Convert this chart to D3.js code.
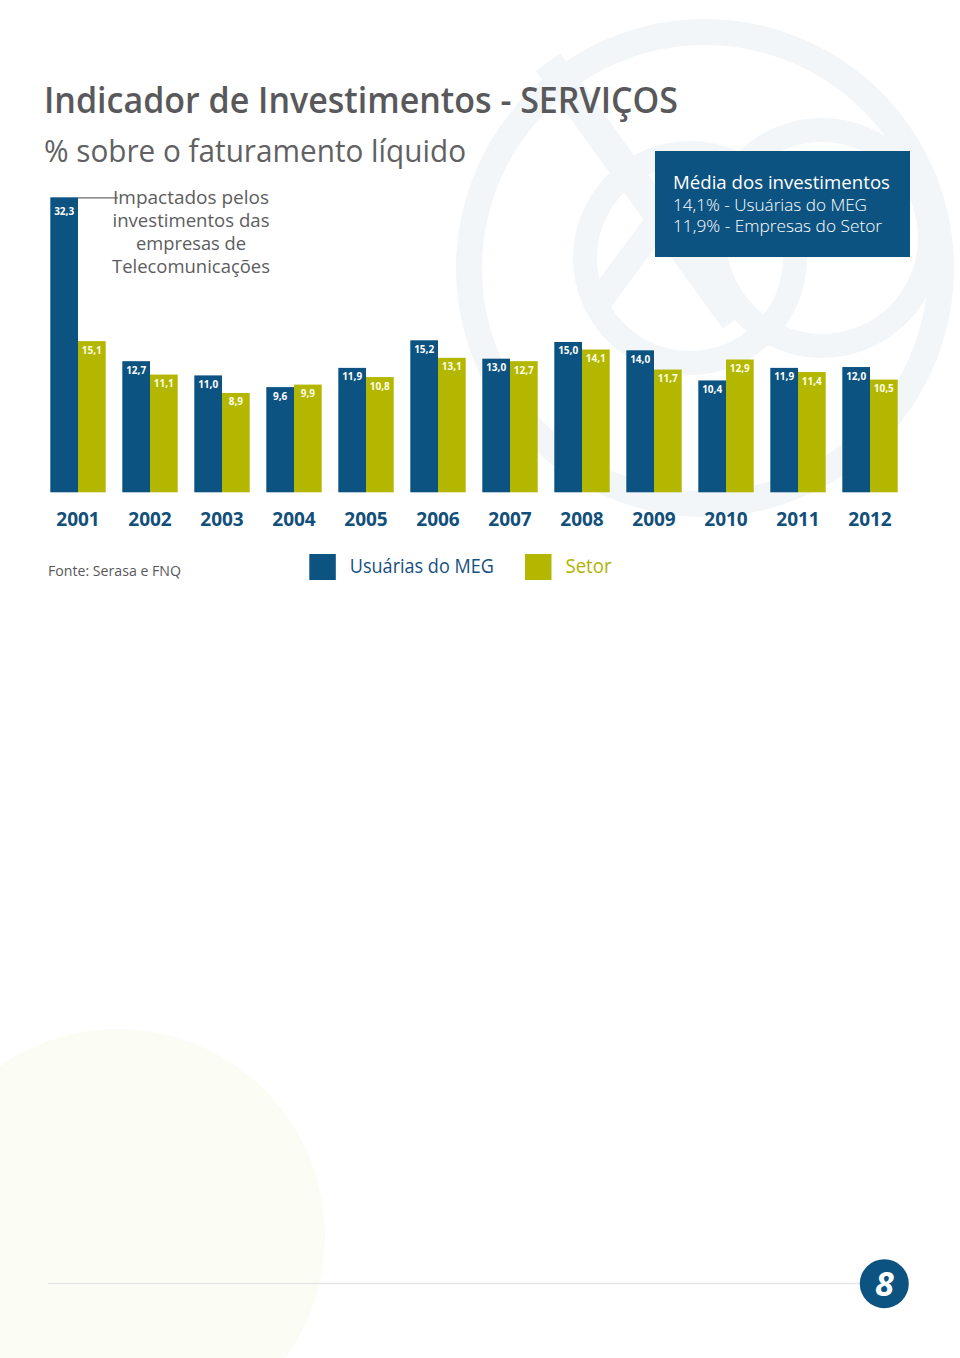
<!DOCTYPE html>
<html>
<head>
<meta charset="utf-8">
<script src="https://cdn.jsdelivr.net/npm/d3@7"></script>
<style>
  html, body { margin: 0; padding: 0; background: #ffffff; }
  svg { display: block; }
  text { font-family: "Open Sans", "DejaVu Sans", sans-serif; }
</style>
</head>
<body>
<svg id="chart" width="960" height="1358"></svg>
<script>
// ---- data ----
const years = ["2001","2002","2003","2004","2005","2006","2007","2008","2009","2010","2011","2012"];
const megValues = [32.3, 12.7, 11.0, 9.6, 11.9, 15.2, 13.0, 15.0, 14.0, 10.4, 11.9, 12.0];
const setorValues = [15.1, 11.1, 8.9, 9.9, 10.8, 13.1, 12.7, 14.1, 11.7, 12.9, 11.4, 10.5];
const seriesKeys = ["meg", "setor"];
const seriesNames = ["Usuárias do MEG", "Setor"];
const titleText = "Indicador de Investimentos - SERVIÇOS";
const subtitleText = "% sobre o faturamento líquido";
const noteLines = ["Impactados pelos", "investimentos das", "empresas de", "Telecomunicações"];
const boxTitle = "Média dos investimentos";
const boxLines = ["14,1% - Usuárias do MEG", "11,9% - Empresas do Setor"];
const sourceText = "Fonte: Serasa e FNQ";
const pageNumber = "8";

// ---- styles ----
const BLUE = "#0c5381";
const OLIVE = "#b4b700";
const colors = { meg: BLUE, setor: OLIVE };
const GRAY = "#59595b";
const WM = "#f2f6f9";

const svg = d3.select("#chart");

// ---- background decorations ----
const bg = svg.append("g");
bg.append("circle").attr("cx", 118).attr("cy", 1236).attr("r", 207).attr("fill", "#fbfcf4");
bg.append("circle").attr("cx", 705).attr("cy", 268).attr("r", 236)
  .attr("fill", "none").attr("stroke", WM).attr("stroke-width", 26);
bg.append("circle").attr("cx", 690).attr("cy", 258).attr("r", 105)
  .attr("fill", "none").attr("stroke", WM).attr("stroke-width", 24);
bg.append("circle").attr("cx", 822).attr("cy", 238).attr("r", 108)
  .attr("fill", "none").attr("stroke", WM).attr("stroke-width", 24);
bg.append("line").attr("x1", 548).attr("y1", 62).attr("x2", 735).attr("y2", 320)
  .attr("stroke", WM).attr("stroke-width", 30);
bg.append("line").attr("x1", 700).attr("y1", 165).attr("x2", 600).attr("y2", 300)
  .attr("stroke", WM).attr("stroke-width", 26);

// ---- titles ----
svg.append("text").attr("x", 44).attr("y", 113)
  .attr("font-size", 36).attr("font-weight", 600).attr("fill", GRAY)
  .attr("textLength", 634).attr("lengthAdjust", "spacingAndGlyphs")
  .text(titleText);
svg.append("text").attr("x", 44).attr("y", 162)
  .attr("font-size", 31).attr("font-weight", 400).attr("fill", "#616163")
  .attr("textLength", 422).attr("lengthAdjust", "spacingAndGlyphs")
  .text(subtitleText);

// ---- scales ----
const x0 = d3.scaleBand().domain(years).range([50.3, 897.7]).paddingInner(0.2306).paddingOuter(0);
const x1 = d3.scaleBand().domain(seriesKeys).range([0, x0.bandwidth()]).padding(0);
const y = d3.scaleLinear().domain([-2.98, 32.3]).range([492.3, 197.3]);
const yFloor = y.domain()[0];

const fmt = v => d3.format(".1f")(v).replace(".", ",");

const data = years.map((yr, i) => ({ year: yr, meg: megValues[i], setor: setorValues[i] }));

// ---- bars ----
const groups = svg.append("g").selectAll("g").data(data).join("g")
  .attr("transform", d => `translate(${x0(d.year)},0)`);

const bars = groups.selectAll("g.bar")
  .data(d => seriesKeys.map(k => ({ key: k, value: d[k] })))
  .join("g").attr("class", "bar");

bars.append("rect")
  .attr("x", d => x1(d.key))
  .attr("y", d => y(d.value))
  .attr("width", x1.bandwidth())
  .attr("height", d => y(yFloor) - y(d.value))
  .attr("fill", d => colors[d.key]);

bars.append("text")
  .attr("x", d => x1(d.key) + x1.bandwidth() / 2)
  .attr("y", d => y(d.value) + (d.value > 30 ? 17.5 : 12.5))
  .attr("text-anchor", "middle")
  .attr("font-size", 10).attr("font-weight", 700)
  .attr("fill", d => d.key === "meg" ? "#ffffff" : "#fdfde6")
  .text(d => fmt(d.value));

// ---- year axis labels ----
const xAxis = d3.axisBottom(x0).tickSize(0).tickPadding(0);
const axisG = svg.append("g").attr("transform", "translate(0,511)").call(xAxis);
axisG.select(".domain").remove();
axisG.selectAll("text")
  .attr("dy", 0).attr("y", 14.7)
  .attr("font-family", "'Open Sans', sans-serif")
  .attr("font-size", 19).attr("font-weight", 700).attr("fill", "#124f7b");

// ---- annotation for 2001 ----
const bigBarRight = x0(years[0]) + x1("meg") + x1.bandwidth();
svg.append("line")
  .attr("x1", bigBarRight).attr("x2", 118)
  .attr("y1", y(megValues[0]) + 0.5).attr("y2", y(megValues[0]) + 0.5)
  .attr("stroke", "#6b6b6b").attr("stroke-width", 1.3);
const noteWidths = [156, 157, 110, 158];
svg.append("g").selectAll("text").data(noteLines).join("text")
  .attr("x", 191).attr("y", (d, i) => 204 + i * 23)
  .attr("text-anchor", "middle")
  .attr("font-size", 18).attr("fill", "#5d5d5f")
  .attr("textLength", (d, i) => noteWidths[i]).attr("lengthAdjust", "spacingAndGlyphs")
  .text(d => d);

// ---- average box ----
svg.append("rect").attr("x", 655).attr("y", 151).attr("width", 255).attr("height", 106).attr("fill", BLUE);
svg.append("text").attr("x", 673).attr("y", 189.3)
  .attr("font-size", 19).attr("fill", "#ffffff")
  .attr("textLength", 217).attr("lengthAdjust", "spacingAndGlyphs")
  .text(boxTitle);
const boxWidths = [194, 209];
svg.append("g").selectAll("text").data(boxLines).join("text")
  .attr("x", 673).attr("y", (d, i) => 210.7 + i * 21)
  .attr("font-size", 17).attr("font-weight", 300).attr("fill", "#ffffff")
  .attr("textLength", (d, i) => boxWidths[i]).attr("lengthAdjust", "spacingAndGlyphs")
  .text(d => d);

// ---- source ----
svg.append("text").attr("x", 48).attr("y", 576)
  .attr("font-size", 14).attr("fill", "#58585a")
  .attr("textLength", 133).attr("lengthAdjust", "spacingAndGlyphs")
  .text(sourceText);

// ---- legend ----
const legendX = [309.3, 525];
const legendTextW = [144, 46];
const legendTextColors = ["#15517e", "#b0b300"];
const leg = svg.append("g").selectAll("g").data(seriesKeys).join("g")
  .attr("transform", (d, i) => `translate(${legendX[i]},554)`);
leg.append("rect").attr("width", 26.5).attr("height", 26).attr("fill", d => colors[d]);
leg.append("text").attr("x", 40.5).attr("y", 19)
  .attr("font-size", 20).attr("fill", (d, i) => legendTextColors[i])
  .attr("textLength", (d, i) => legendTextW[i]).attr("lengthAdjust", "spacingAndGlyphs")
  .text((d, i) => seriesNames[i]);

// ---- footer ----
svg.append("line").attr("x1", 48).attr("x2", 862).attr("y1", 1283.5).attr("y2", 1283.5)
  .attr("stroke", "#e6e6e6").attr("stroke-width", 1.5);
svg.append("circle").attr("cx", 884.3).attr("cy", 1283.7).attr("r", 24.5).attr("fill", BLUE);
svg.append("text").attr("x", 884.3).attr("y", 1296)
  .attr("text-anchor", "middle").attr("font-size", 34).attr("font-weight", 700)
  .attr("font-style", "italic").attr("fill", "#ffffff")
  .text(pageNumber);
</script>
</body>
</html>
